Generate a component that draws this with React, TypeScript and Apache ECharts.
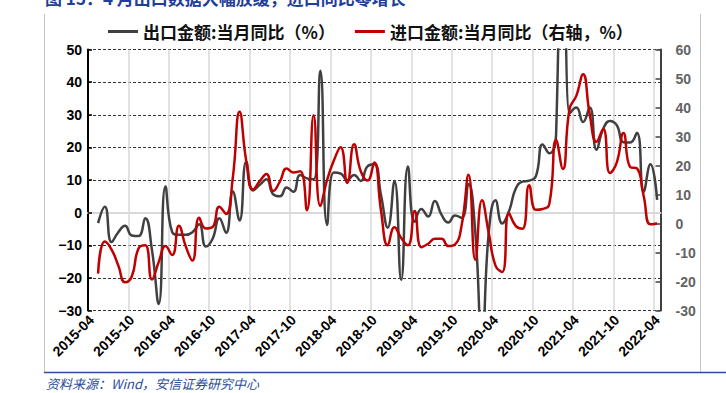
import React, { useEffect, useRef } from "react";
import * as echarts from "echarts";

const categories: string[] = [
  "2015-04","2015-05","2015-06","2015-07","2015-08","2015-09","2015-10","2015-11","2015-12",
  "2016-01","2016-02","2016-03","2016-04","2016-05","2016-06","2016-07","2016-08","2016-09","2016-10","2016-11","2016-12",
  "2017-01","2017-02","2017-03","2017-04","2017-05","2017-06","2017-07","2017-08","2017-09","2017-10","2017-11","2017-12",
  "2018-01","2018-02","2018-03","2018-04","2018-05","2018-06","2018-07","2018-08","2018-09","2018-10","2018-11","2018-12",
  "2019-01","2019-02","2019-03","2019-04","2019-05","2019-06","2019-07","2019-08","2019-09","2019-10","2019-11","2019-12",
  "2020-01","2020-02","2020-03","2020-04","2020-05","2020-06","2020-07","2020-08","2020-09","2020-10","2020-11","2020-12",
  "2021-01","2021-02","2021-03","2021-04","2021-05","2021-06","2021-07","2021-08","2021-09","2021-10","2021-11","2021-12",
  "2022-01","2022-02","2022-03","2022-04",
];

// 出口金额:当月同比（%） — left axis
const exportYoY: (number | null)[] = [
  null, -3.2, 1.8, -9.0, -6.0, -4.0, -7.0, -7.2, -1.7,
  -11.5, -28.0, 8.0, -6.0, -6.8, -6.8, -6.0, -3.6, -10.4, -8.0, -1.7, -6.2,
  6.5, -2.4, 15.6, 6.8, 8.5, 10.2, 5.6, 5.0, 7.7, 6.4, 11.5, 10.5,
  10.2, 43.5, -3.8, 12.3, 12.0, 10.0, 11.5, 9.7, 14.2, 14.8, 5.4, -4.6,
  9.7, -20.6, 14.1, -2.8, 1.1, -1.2, 3.6, -0.7, -3.0, -0.9, -1.6, 8.8,
  -6.0, -40.6, -6.0, 3.8, -3.3, 0.4, 7.3, 9.5, 9.8, 11.2, 20.9, 18.2,
  24.0, 154.9, 30.4, 32.2, 27.8, 32.2, 19.3, 25.7, 28.1, 26.8, 21.6, 21.5,
  24.5, 6.4, 14.8, 3.9,
];

// 进口金额:当月同比（右轴，%） — right axis
const importYoY: (number | null)[] = [
  null, -17.3, -6.2, -9.0, -14.5, -20.3, -18.3, -8.6, -7.5,
  -19.3, -13.3, -7.8, -10.9, -0.8, -7.8, -12.8, 2.0, -1.7, -1.2, 5.8, 3.3,
  15.8, 38.5, 21.5, 11.7, 14.6, 17.1, 11.2, 14.5, 19.0, 17.6, 18.0, 4.6,
  37.3, 6.0, 15.0, 21.7, 26.3, 14.0, 27.3, 18.0, 14.8, 21.0, 4.5, -7.5,
  -1.3, -5.0, -7.5, 4.3, -8.2, -7.0, -5.3, -5.3, -7.8, -7.2, -0.3, 16.8,
  -12.5, 8.0, -3.3, -14.5, -16.7, 3.5, -0.8, -1.8, 13.2, 4.7, 5.0, 6.8,
  28.8, 18.8, 39.5, 44.0, 51.5, 37.5, 28.2, 32.6, 17.4, 21.0, 31.2, 19.5,
  19.0, 9.5, -0.3, 0.0,
];

const seriesNames = ["出口金额:当月同比（%）", "进口金额:当月同比（右轴，%）"];
const titleText = "图 15：4 月出口数据大幅放缓，进口同比零增长";
const sourceText = "资料来源：Wind，安信证券研究中心";

export default function App() {
  const ref = useRef<HTMLDivElement>(null);
  useEffect(() => {
    if (!ref.current) return;
    const chart = echarts.init(ref.current, null, { renderer: "svg" });
    const axisFont = "Liberation Sans, Arial, sans-serif";
    const cjkFont = "Noto Sans CJK SC, sans-serif";
    chart.setOption({
      animation: false,
      backgroundColor: "#ffffff",
      grid: { left: 88, right: 65.5, top: 49.5, bottom: 82.5, containLabel: false },
      legend: {
        left: 108,
        top: 23,
        padding: 0,
        icon: "rect",
        itemWidth: 30,
        itemHeight: 3,
        itemGap: 20,
        textStyle: { fontSize: 17, fontWeight: "bold", fontFamily: cjkFont, color: "#111" },
        data: seriesNames,
      },
      xAxis: [
        {
          type: "category",
          data: categories,
          boundaryGap: true,
          axisLine: { show: false },
          axisTick: { show: false },
          axisLabel: {
            interval: 5,
            rotate: 45,
            margin: 7,
            fontSize: 14,
            fontWeight: "bold",
            fontFamily: axisFont,
            color: "#000",
          },
          splitLine: { show: true, interval: 5, lineStyle: { color: "#d9d9d9", width: 1.5 } },
        },
        {
          type: "category",
          data: categories,
          boundaryGap: true,
          position: "bottom",
          axisLine: { show: true, onZero: true, onZeroAxisIndex: 0, lineStyle: { color: "#d9d9d9", width: 2 } },
          axisTick: { show: false },
          axisLabel: { show: false },
          splitLine: { show: false },
        },
      ],
      yAxis: [
        {
          type: "value",
          min: -30,
          max: 50,
          interval: 10,
          position: "left",
          axisLine: { show: true, lineStyle: { color: "#000", width: 2 } },
          axisTick: { show: true, inside: true, length: 4, lineStyle: { color: "#000", width: 1.5 } },
          axisLabel: {
            margin: 6,
            fontSize: 14,
            fontWeight: "bold",
            fontFamily: axisFont,
            color: "#000",
            formatter: (v: number) => String(v).replace("-", "\u2212"),
          },
          splitLine: { show: true, lineStyle: { color: "#333", width: 1, type: [3, 2] } },
        },
        {
          type: "value",
          min: -30,
          max: 60,
          interval: 10,
          position: "right",
          axisLine: { show: true, lineStyle: { color: "#404040", width: 2 } },
          axisTick: { show: true, inside: true, length: 5, lineStyle: { color: "#404040", width: 1.5 } },
          axisLabel: {
            margin: 15,
            fontSize: 14,
            fontWeight: "bold",
            fontFamily: axisFont,
            color: "#636363",
          },
          splitLine: { show: false },
        },
      ],
      series: [
        {
          name: seriesNames[0],
          type: "line",
          xAxisIndex: 0,
          yAxisIndex: 0,
          data: exportYoY,
          smooth: 0.5,
          showSymbol: false,
          connectNulls: false,
          clip: true,
          itemStyle: { color: "#404040" },
          lineStyle: { color: "#404040", width: 2.5 },
          z: 3,
        },
        {
          name: seriesNames[1],
          type: "line",
          xAxisIndex: 0,
          yAxisIndex: 1,
          data: importYoY,
          smooth: 0.5,
          showSymbol: false,
          clip: true,
          itemStyle: { color: "#c00000" },
          lineStyle: { color: "#c00000", width: 2.5 },
          z: 4,
        },
      ],
      graphic: [
        {
          type: "text",
          x: 45,
          y: 6,
          style: {
            text: titleText,
            fontSize: 17,
            fontWeight: "bold",
            fontFamily: cjkFont,
            fill: "#1f3f99",
            verticalAlign: "bottom",
          },
        },
        { type: "line", shape: { x1: 44.5, y1: 14, x2: 44.5, y2: 372 }, style: { stroke: "#c4c4c4", lineWidth: 1 } },
        { type: "line", shape: { x1: 700.5, y1: 14, x2: 700.5, y2: 372 }, style: { stroke: "#c4c4c4", lineWidth: 1 } },
        { type: "line", shape: { x1: 44, y1: 372.5, x2: 726, y2: 372.5 }, style: { stroke: "#2a4d9b", lineWidth: 1.5 } },
        {
          type: "text",
          x: 46,
          y: 383,
          style: {
            text: sourceText,
            fontSize: 13,
            fontStyle: "italic",
            fontFamily: cjkFont,
            fill: "#2a4d9b",
            verticalAlign: "middle",
          },
        },
      ],
    });
    return () => chart.dispose();
  }, []);
  return (
    <div
      ref={ref}
      style={{ position: "absolute", left: 0, top: 0, width: 726, height: 393 }}
    />
  );
}
